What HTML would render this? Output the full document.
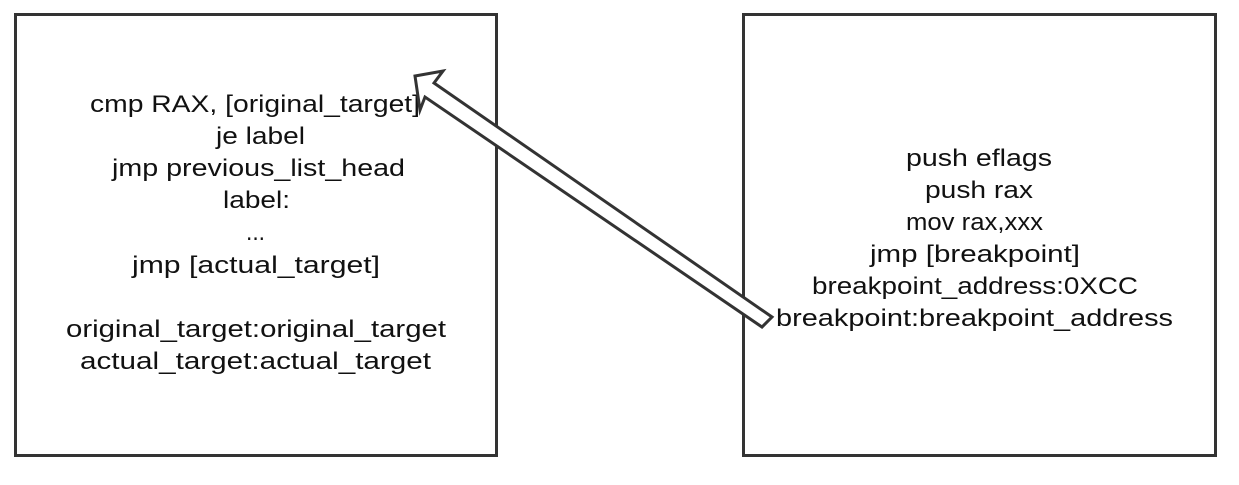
<!DOCTYPE html>
<html><head><style>html,body{margin:0;padding:0;background:#fff;}</style></head>
<body>
<svg width="1239" height="480" xmlns="http://www.w3.org/2000/svg">
<rect x="15.5" y="14.5" width="481" height="441" fill="none" stroke="#333" stroke-width="3"/>
<rect x="743.5" y="14.5" width="472" height="441" fill="none" stroke="#333" stroke-width="3"/>
<g font-family="Liberation Sans, sans-serif" font-size="24" fill="#111" lengthAdjust="spacingAndGlyphs">
<text x="90" y="112" textLength="330" lengthAdjust="spacingAndGlyphs">cmp RAX, [original_target]</text>
<text x="216" y="144" textLength="89" lengthAdjust="spacingAndGlyphs">je label</text>
<text x="112" y="176" textLength="293" lengthAdjust="spacingAndGlyphs">jmp previous_list_head</text>
<text x="223" y="208" textLength="67" lengthAdjust="spacingAndGlyphs">label:</text>
<text x="246" y="240" textLength="19" lengthAdjust="spacingAndGlyphs">...</text>
<text x="132" y="273" textLength="248" lengthAdjust="spacingAndGlyphs">jmp [actual_target]</text>
<text x="66" y="337" textLength="380" lengthAdjust="spacingAndGlyphs">original_target:original_target</text>
<text x="80" y="369" textLength="351" lengthAdjust="spacingAndGlyphs">actual_target:actual_target</text>
<text x="906" y="166" textLength="146" lengthAdjust="spacingAndGlyphs">push eflags</text>
<text x="925" y="198" textLength="108" lengthAdjust="spacingAndGlyphs">push rax</text>
<text x="906" y="230" textLength="137" lengthAdjust="spacingAndGlyphs">mov rax,xxx</text>
<text x="870" y="262" textLength="210" lengthAdjust="spacingAndGlyphs">jmp [breakpoint]</text>
<text x="812" y="294" textLength="326" lengthAdjust="spacingAndGlyphs">breakpoint_address:0XCC</text>
<text x="776" y="326" textLength="397" lengthAdjust="spacingAndGlyphs">breakpoint:breakpoint_address</text>
</g>
<polygon points="415,76 443,71 434,83 772,317 762,327 425,97 420,110" fill="#fff" stroke="#333" stroke-width="3" stroke-linejoin="miter"/>
</svg>
</body></html>
